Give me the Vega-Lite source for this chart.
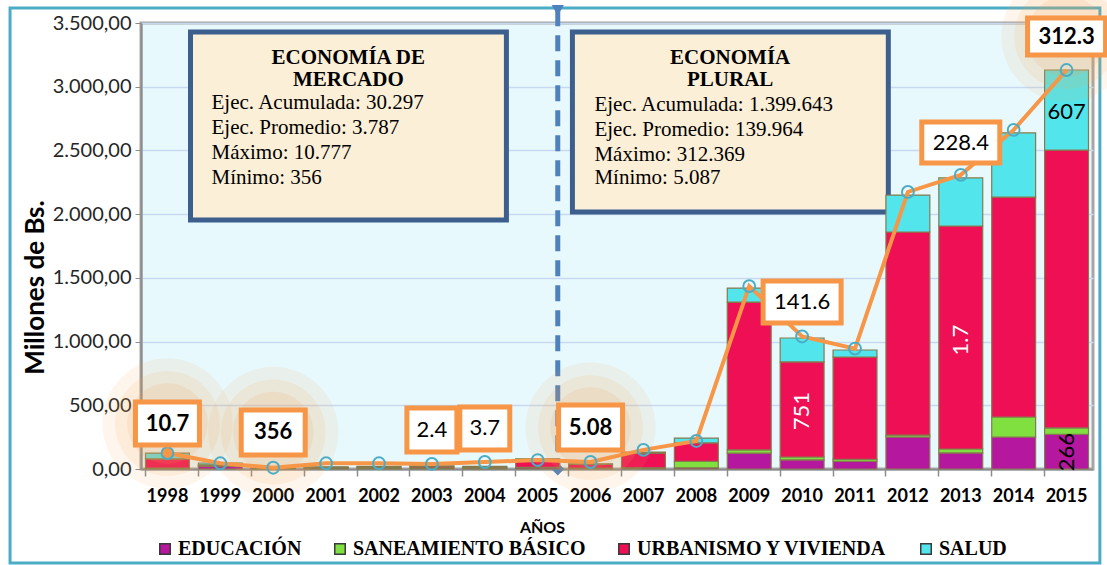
{
  "$schema": "https://vega.github.io/schema/vega-lite/v6.json",
  "width": 952,
  "height": 446,
  "autosize": {"type": "none"},
  "padding": {"left": 141, "top": 23, "right": 14, "bottom": 96},
  "background": "white",
  "datasets": {
    "barras": [
      {"year": "1998", "sector": "EDUCACIÓN", "orden": 1, "valor": 5},
      {"year": "1998", "sector": "SANEAMIENTO BÁSICO", "orden": 2, "valor": 3},
      {"year": "1998", "sector": "URBANISMO Y VIVIENDA", "orden": 3, "valor": 72},
      {"year": "1998", "sector": "SALUD", "orden": 4, "valor": 45},
      {"year": "1999", "sector": "EDUCACIÓN", "orden": 1, "valor": 20},
      {"year": "1999", "sector": "SANEAMIENTO BÁSICO", "orden": 2, "valor": 2},
      {"year": "1999", "sector": "URBANISMO Y VIVIENDA", "orden": 3, "valor": 10},
      {"year": "1999", "sector": "SALUD", "orden": 4, "valor": 15},
      {"year": "2000", "sector": "EDUCACIÓN", "orden": 1, "valor": 3},
      {"year": "2000", "sector": "SANEAMIENTO BÁSICO", "orden": 2, "valor": 1},
      {"year": "2000", "sector": "URBANISMO Y VIVIENDA", "orden": 3, "valor": 3},
      {"year": "2000", "sector": "SALUD", "orden": 4, "valor": 2},
      {"year": "2001", "sector": "EDUCACIÓN", "orden": 1, "valor": 5},
      {"year": "2001", "sector": "SANEAMIENTO BÁSICO", "orden": 2, "valor": 2},
      {"year": "2001", "sector": "URBANISMO Y VIVIENDA", "orden": 3, "valor": 6},
      {"year": "2001", "sector": "SALUD", "orden": 4, "valor": 4},
      {"year": "2002", "sector": "EDUCACIÓN", "orden": 1, "valor": 6},
      {"year": "2002", "sector": "SANEAMIENTO BÁSICO", "orden": 2, "valor": 2},
      {"year": "2002", "sector": "URBANISMO Y VIVIENDA", "orden": 3, "valor": 8},
      {"year": "2002", "sector": "SALUD", "orden": 4, "valor": 5},
      {"year": "2003", "sector": "EDUCACIÓN", "orden": 1, "valor": 8},
      {"year": "2003", "sector": "SANEAMIENTO BÁSICO", "orden": 2, "valor": 2},
      {"year": "2003", "sector": "URBANISMO Y VIVIENDA", "orden": 3, "valor": 10},
      {"year": "2003", "sector": "SALUD", "orden": 4, "valor": 5},
      {"year": "2004", "sector": "EDUCACIÓN", "orden": 1, "valor": 6},
      {"year": "2004", "sector": "SANEAMIENTO BÁSICO", "orden": 2, "valor": 2},
      {"year": "2004", "sector": "URBANISMO Y VIVIENDA", "orden": 3, "valor": 8},
      {"year": "2004", "sector": "SALUD", "orden": 4, "valor": 4},
      {"year": "2005", "sector": "EDUCACIÓN", "orden": 1, "valor": 10},
      {"year": "2005", "sector": "SANEAMIENTO BÁSICO", "orden": 2, "valor": 3},
      {"year": "2005", "sector": "URBANISMO Y VIVIENDA", "orden": 3, "valor": 62},
      {"year": "2005", "sector": "SALUD", "orden": 4, "valor": 5},
      {"year": "2006", "sector": "EDUCACIÓN", "orden": 1, "valor": 5},
      {"year": "2006", "sector": "SANEAMIENTO BÁSICO", "orden": 2, "valor": 2},
      {"year": "2006", "sector": "URBANISMO Y VIVIENDA", "orden": 3, "valor": 30},
      {"year": "2006", "sector": "SALUD", "orden": 4, "valor": 3},
      {"year": "2007", "sector": "EDUCACIÓN", "orden": 1, "valor": 5},
      {"year": "2007", "sector": "SANEAMIENTO BÁSICO", "orden": 2, "valor": 5},
      {"year": "2007", "sector": "URBANISMO Y VIVIENDA", "orden": 3, "valor": 115},
      {"year": "2007", "sector": "SALUD", "orden": 4, "valor": 8},
      {"year": "2008", "sector": "EDUCACIÓN", "orden": 1, "valor": 10},
      {"year": "2008", "sector": "SANEAMIENTO BÁSICO", "orden": 2, "valor": 50},
      {"year": "2008", "sector": "URBANISMO Y VIVIENDA", "orden": 3, "valor": 145},
      {"year": "2008", "sector": "SALUD", "orden": 4, "valor": 38},
      {"year": "2009", "sector": "EDUCACIÓN", "orden": 1, "valor": 125},
      {"year": "2009", "sector": "SANEAMIENTO BÁSICO", "orden": 2, "valor": 25},
      {"year": "2009", "sector": "URBANISMO Y VIVIENDA", "orden": 3, "valor": 1160},
      {"year": "2009", "sector": "SALUD", "orden": 4, "valor": 110},
      {"year": "2010", "sector": "EDUCACIÓN", "orden": 1, "valor": 72},
      {"year": "2010", "sector": "SANEAMIENTO BÁSICO", "orden": 2, "valor": 22},
      {"year": "2010", "sector": "URBANISMO Y VIVIENDA", "orden": 3, "valor": 746},
      {"year": "2010", "sector": "SALUD", "orden": 4, "valor": 188},
      {"year": "2011", "sector": "EDUCACIÓN", "orden": 1, "valor": 60},
      {"year": "2011", "sector": "SANEAMIENTO BÁSICO", "orden": 2, "valor": 15},
      {"year": "2011", "sector": "URBANISMO Y VIVIENDA", "orden": 3, "valor": 804},
      {"year": "2011", "sector": "SALUD", "orden": 4, "valor": 55},
      {"year": "2012", "sector": "EDUCACIÓN", "orden": 1, "valor": 251},
      {"year": "2012", "sector": "SANEAMIENTO BÁSICO", "orden": 2, "valor": 15},
      {"year": "2012", "sector": "URBANISMO Y VIVIENDA", "orden": 3, "valor": 1594},
      {"year": "2012", "sector": "SALUD", "orden": 4, "valor": 290},
      {"year": "2013", "sector": "EDUCACIÓN", "orden": 1, "valor": 126},
      {"year": "2013", "sector": "SANEAMIENTO BÁSICO", "orden": 2, "valor": 31},
      {"year": "2013", "sector": "URBANISMO Y VIVIENDA", "orden": 3, "valor": 1750},
      {"year": "2013", "sector": "SALUD", "orden": 4, "valor": 377},
      {"year": "2014", "sector": "EDUCACIÓN", "orden": 1, "valor": 251},
      {"year": "2014", "sector": "SANEAMIENTO BÁSICO", "orden": 2, "valor": 157},
      {"year": "2014", "sector": "URBANISMO Y VIVIENDA", "orden": 3, "valor": 1726},
      {"year": "2014", "sector": "SALUD", "orden": 4, "valor": 503},
      {"year": "2015", "sector": "EDUCACIÓN", "orden": 1, "valor": 272},
      {"year": "2015", "sector": "SANEAMIENTO BÁSICO", "orden": 2, "valor": 50},
      {"year": "2015", "sector": "URBANISMO Y VIVIENDA", "orden": 3, "valor": 2181},
      {"year": "2015", "sector": "SALUD", "orden": 4, "valor": 628}
    ],
    "linea": [
      {"year": "1998", "total": 125},
      {"year": "1999", "total": 45},
      {"year": "2000", "total": 10},
      {"year": "2001", "total": 45},
      {"year": "2002", "total": 45},
      {"year": "2003", "total": 40},
      {"year": "2004", "total": 55},
      {"year": "2005", "total": 70},
      {"year": "2006", "total": 55},
      {"year": "2007", "total": 150},
      {"year": "2008", "total": 220},
      {"year": "2009", "total": 1435},
      {"year": "2010", "total": 1040},
      {"year": "2011", "total": 945},
      {"year": "2012", "total": 2174},
      {"year": "2013", "total": 2308},
      {"year": "2014", "total": 2661},
      {"year": "2015", "total": 3131}
    ],
    "cajas": [
      {"year": "1998", "label": "10.7", "lo": 188, "hi": 526, "mid": 357},
      {"year": "2000", "label": "356", "lo": 110, "hi": 463, "mid": 290},
      {"year": "2003", "label": "2.4", "lo": 133, "hi": 479, "mid": 306},
      {"year": "2004", "label": "3.7", "lo": 149, "hi": 487, "mid": 318},
      {"year": "2006", "label": "5.08", "lo": 149, "hi": 502, "mid": 325},
      {"year": "2010", "label": "141.6", "lo": 1146, "hi": 1475, "mid": 1310},
      {"year": "2013", "label": "228.4", "lo": 2401, "hi": 2723, "mid": 2562},
      {"year": "2015", "label": "312.3", "lo": 3249, "hi": 3539, "mid": 3394}
    ],
    "enbarra": [
      {"year": "2010", "label": "751", "pos": 455},
      {"year": "2013", "label": "1.7", "pos": 1012},
      {"year": "2015", "label": "266", "pos": 133},
      {"year": "2015", "label": "607", "pos": 2802}
    ],
    "recuadros": [
      {"x1": 0.936, "x2": 6.909, "y1": 1954, "y2": 3429},
      {"x1": 8.157, "x2": 14.13, "y1": 2017, "y2": 3429}
    ],
    "marco": [
      {"x1": -2.476, "x2": 18.13, "y1": -737, "y2": 3618}
    ],
    "divisor": [
      {"x": 7.88, "top": 3600, "bottom": 0}
    ],
    "textos": [
      {"x": 3.92, "y": 3225, "t": "ECONOMÍA DE", "k": "tit"},
      {"x": 3.92, "y": 3053, "t": "MERCADO", "k": "tit"},
      {"x": 1.333, "y": 2872, "t": "Ejec. Acumulada: 30.297", "k": "cue"},
      {"x": 1.333, "y": 2676, "t": "Ejec. Promedio: 3.787", "k": "cue"},
      {"x": 1.333, "y": 2480, "t": "Máximo: 10.777", "k": "cue"},
      {"x": 1.333, "y": 2284, "t": "Mínimo: 356", "k": "cue"},
      {"x": 11.14, "y": 3225, "t": "ECONOMÍA", "k": "tit"},
      {"x": 11.14, "y": 3053, "t": "PLURAL", "k": "tit"},
      {"x": 8.573, "y": 2857, "t": "Ejec. Acumulada: 1.399.643", "k": "cue"},
      {"x": 8.573, "y": 2661, "t": "Ejec. Promedio: 139.964", "k": "cue"},
      {"x": 8.573, "y": 2464, "t": "Máximo: 312.369", "k": "cue"},
      {"x": 8.573, "y": 2284, "t": "Mínimo: 5.087", "k": "cue"}
    ]
  },
  "resolve": {"scale": {"x": "independent"}},
  "layer": [
    {
      "layer": [
        {
          "data": {"name": "marco"},
          "mark": {"type": "rect", "fill": null, "stroke": "#4bacc6", "strokeWidth": 3},
          "encoding": {
            "x": {"field": "x1", "type": "quantitative", "scale": {"domain": [0, 18], "nice": false, "zero": false}, "axis": null},
            "x2": {"field": "x2"},
            "y": {"field": "y1", "type": "quantitative"},
            "y2": {"field": "y2"}
          }
        },
        {
          "data": {"name": "recuadros"},
          "mark": {"type": "rect", "fill": "#fcefd8", "stroke": "#3c5f8e", "strokeWidth": 5},
          "encoding": {
            "x": {"field": "x1", "type": "quantitative"},
            "x2": {"field": "x2"},
            "y": {"field": "y1", "type": "quantitative"},
            "y2": {"field": "y2"}
          }
        },
        {
          "data": {"name": "textos"},
          "transform": [{"filter": {"field": "k", "equal": "tit"}}],
          "mark": {"type": "text", "font": "Liberation Serif", "fontSize": 21, "fontWeight": "bold", "color": "black", "align": "center"},
          "encoding": {
            "x": {"field": "x", "type": "quantitative"},
            "y": {"field": "y", "type": "quantitative"},
            "text": {"field": "t"}
          }
        },
        {
          "data": {"name": "textos"},
          "transform": [{"filter": {"field": "k", "equal": "cue"}}],
          "mark": {"type": "text", "font": "Liberation Serif", "fontSize": 21, "color": "black", "align": "left"},
          "encoding": {
            "x": {"field": "x", "type": "quantitative"},
            "y": {"field": "y", "type": "quantitative"},
            "text": {"field": "t"}
          }
        },
        {
          "data": {"name": "divisor"},
          "mark": {"type": "rule", "color": "#4f81bd", "strokeWidth": 5, "strokeDash": [16, 9]},
          "encoding": {
            "x": {"field": "x", "type": "quantitative"},
            "y": {"field": "top", "type": "quantitative"},
            "y2": {"field": "bottom"}
          }
        },
        {
          "data": {"name": "divisor"},
          "mark": {"type": "point", "shape": "triangle-down", "filled": true, "color": "#4f81bd", "size": 150, "opacity": 1},
          "encoding": {
            "x": {"field": "x", "type": "quantitative"},
            "y": {"field": "top", "type": "quantitative"}
          }
        },
        {
          "data": {"name": "divisor"},
          "mark": {"type": "point", "shape": "diamond", "filled": true, "color": "#4f81bd", "size": 170, "opacity": 1},
          "encoding": {
            "x": {"field": "x", "type": "quantitative"},
            "y": {"field": "bottom", "type": "quantitative"}
          }
        }
      ]
    },
    {
      "layer": [
        {
          "data": {"name": "barras"},
          "mark": {"type": "bar", "stroke": "#857a4e", "strokeWidth": 1.2},
          "encoding": {
            "x": {
              "field": "year", "type": "ordinal",
              "scale": {"paddingInner": 0.17, "paddingOuter": 0.085},
              "axis": {
                "orient": "bottom",
                "title": "AÑOS", "labelAngle": 0, "labelFont": "Lato", "labelFontWeight": "bold", "labelFontSize": 18, "labelColor": "black",
                "bandPosition": 0, "tickSize": 7, "tickColor": "#8c8c8c", "tickWidth": 1.5, "domainColor": "#8c8c8c", "domainWidth": 2,
                "labelPadding": 11, "titleFont": "Lato", "titleFontSize": 16, "titleFontWeight": "bold", "titleColor": "black",
                "titleX": 401, "titleY": 58, "titleBaseline": "middle", "grid": false
              }
            },
            "y": {
              "field": "valor", "type": "quantitative", "stack": "zero",
              "scale": {"domain": [0, 3500], "nice": false},
              "axis": {
                "title": "Millones de Bs.", "values": [0, 500, 1000, 1500, 2000, 2500, 3000, 3500], "format": ",.2f",
                "labelFont": "Lato", "labelFontSize": 20, "labelColor": "#262626", "labelPadding": 4,
                "grid": true, "gridColor": "#c6d9f1", "gridWidth": 1.5,
                "domainColor": "#8c8c8c", "domainWidth": 2, "tickColor": "#8c8c8c", "tickSize": 6,
                "titleFont": "Lato", "titleFontSize": 26, "titleFontWeight": "bold", "titleColor": "black",
                "titleX": -106, "titleY": 264, "titleAngle": 270, "titleBaseline": "middle", "titleAlign": "center"
              }
            },
            "color": {
              "field": "sector", "type": "nominal",
              "scale": {
                "domain": ["EDUCACIÓN", "SANEAMIENTO BÁSICO", "URBANISMO Y VIVIENDA", "SALUD"],
                "range": ["#b5179e", "#7fe040", "#ee0f55", "#52e6ec"]
              },
              "legend": {
                "orient": "none", "legendX": 14, "legendY": 516, "direction": "horizontal", "title": null,
                "symbolType": "square", "symbolSize": 110, "symbolStrokeColor": "#3a3a3a", "symbolStrokeWidth": 1.5,
                "labelFont": "Liberation Serif", "labelFontWeight": "bold", "labelFontSize": 20, "labelColor": "black",
                "columnPadding": 28, "labelOffset": 3, "padding": 0, "labelLimit": 400
              }
            },
            "order": {"field": "orden", "type": "quantitative"}
          }
        },
        {
          "data": {"name": "cajas"},
          "transform": [{"filter": {"field": "label", "oneOf": ["10.7", "356", "5.08", "312.3"]}}],
          "mark": {"type": "point", "shape": "circle", "filled": true, "color": "#f4a552", "opacity": 0.1, "size": 17000, "strokeWidth": 0},
          "encoding": {
            "x": {"field": "year", "type": "ordinal"},
            "y": {"field": "mid", "type": "quantitative"}
          }
        },
        {
          "data": {"name": "cajas"},
          "transform": [{"filter": {"field": "label", "oneOf": ["10.7", "356", "5.08", "312.3"]}}],
          "mark": {"type": "point", "shape": "circle", "filled": true, "color": "#f4a552", "opacity": 0.12, "size": 11000, "strokeWidth": 0},
          "encoding": {
            "x": {"field": "year", "type": "ordinal"},
            "y": {"field": "mid", "type": "quantitative"}
          }
        },
        {
          "data": {"name": "cajas"},
          "transform": [{"filter": {"field": "label", "oneOf": ["10.7", "356", "5.08", "312.3"]}}],
          "mark": {"type": "point", "shape": "circle", "filled": true, "color": "#f4a552", "opacity": 0.14, "size": 6500, "strokeWidth": 0},
          "encoding": {
            "x": {"field": "year", "type": "ordinal"},
            "y": {"field": "mid", "type": "quantitative"}
          }
        },
        {
          "data": {"name": "linea"},
          "mark": {"type": "line", "color": "#f79646", "strokeWidth": 4, "interpolate": "linear"},
          "encoding": {
            "x": {"field": "year", "type": "ordinal"},
            "y": {"field": "total", "type": "quantitative"}
          }
        },
        {
          "data": {"name": "linea"},
          "mark": {"type": "point", "shape": "circle", "filled": false, "stroke": "#4bacc6", "strokeWidth": 2, "size": 140, "opacity": 1},
          "encoding": {
            "x": {"field": "year", "type": "ordinal"},
            "y": {"field": "total", "type": "quantitative"},
            "fill": {"condition": {"test": "datum.year === '1998'", "value": "#f79646"}, "value": "transparent"}
          }
        },
        {
          "data": {"name": "enbarra"},
          "transform": [{"filter": {"field": "label", "oneOf": ["751", "1.7"]}}],
          "mark": {"type": "text", "font": "Lato", "fontSize": 22, "color": "white", "angle": 270},
          "encoding": {
            "x": {"field": "year", "type": "ordinal"},
            "y": {"field": "pos", "type": "quantitative"},
            "text": {"field": "label"}
          }
        },
        {
          "data": {"name": "enbarra"},
          "transform": [{"filter": {"field": "label", "equal": "266"}}],
          "mark": {"type": "text", "font": "Lato", "fontSize": 22, "color": "black", "angle": 270},
          "encoding": {
            "x": {"field": "year", "type": "ordinal"},
            "y": {"field": "pos", "type": "quantitative"},
            "text": {"field": "label"}
          }
        },
        {
          "data": {"name": "enbarra"},
          "transform": [{"filter": {"field": "label", "equal": "607"}}],
          "mark": {"type": "text", "font": "Lato", "fontSize": 22, "color": "black"},
          "encoding": {
            "x": {"field": "year", "type": "ordinal"},
            "y": {"field": "pos", "type": "quantitative"},
            "text": {"field": "label"}
          }
        },
        {
          "data": {"name": "cajas"},
          "transform": [{"filter": {"field": "label", "oneOf": ["2.4", "3.7"]}}],
          "mark": {"type": "bar", "width": 50, "fill": "white", "stroke": "#f79646", "strokeWidth": 5},
          "encoding": {
            "x": {"field": "year", "type": "ordinal"},
            "y": {"field": "lo", "type": "quantitative"},
            "y2": {"field": "hi"}
          }
        },
        {
          "data": {"name": "cajas"},
          "transform": [{"filter": {"field": "label", "oneOf": ["10.7", "356", "5.08"]}}],
          "mark": {"type": "bar", "width": 64, "fill": "white", "stroke": "#f79646", "strokeWidth": 5},
          "encoding": {
            "x": {"field": "year", "type": "ordinal"},
            "y": {"field": "lo", "type": "quantitative"},
            "y2": {"field": "hi"}
          }
        },
        {
          "data": {"name": "cajas"},
          "transform": [{"filter": {"field": "label", "oneOf": ["141.6", "228.4", "312.3"]}}],
          "mark": {"type": "bar", "width": 78, "fill": "white", "stroke": "#f79646", "strokeWidth": 5},
          "encoding": {
            "x": {"field": "year", "type": "ordinal"},
            "y": {"field": "lo", "type": "quantitative"},
            "y2": {"field": "hi"}
          }
        },
        {
          "data": {"name": "cajas"},
          "transform": [{"filter": {"field": "label", "oneOf": ["10.7", "356", "5.08", "312.3"]}}],
          "mark": {"type": "text", "font": "Lato", "fontSize": 22, "fontWeight": "bold", "color": "black"},
          "encoding": {
            "x": {"field": "year", "type": "ordinal"},
            "y": {"field": "mid", "type": "quantitative"},
            "text": {"field": "label"}
          }
        },
        {
          "data": {"name": "cajas"},
          "transform": [{"filter": {"field": "label", "oneOf": ["2.4", "3.7", "141.6", "228.4"]}}],
          "mark": {"type": "text", "font": "Lato", "fontSize": 22, "color": "black"},
          "encoding": {
            "x": {"field": "year", "type": "ordinal"},
            "y": {"field": "mid", "type": "quantitative"},
            "text": {"field": "label"}
          }
        }
      ]
    }
  ],
  "config": {
    "locale": {"number": {"decimal": ",", "thousands": ".", "grouping": [3], "currency": ["", ""]}},
    "view": {"fill": "#e8f9fd", "stroke": "#a6a6a6", "strokeWidth": 3}
  }
}
